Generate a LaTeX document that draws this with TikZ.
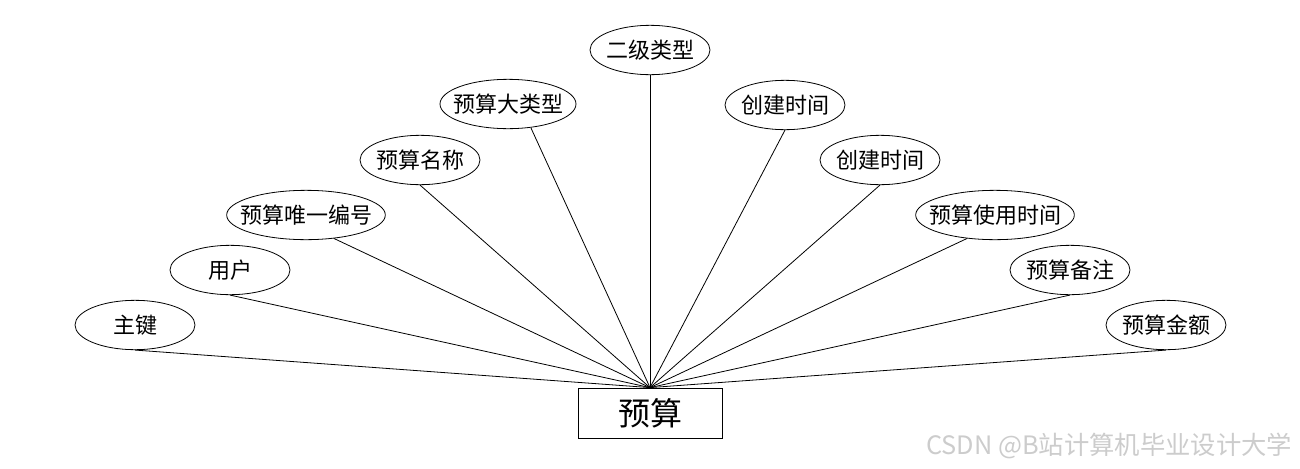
\documentclass[tikz,border=0pt]{standalone}
\usepackage{fontspec}
\newfontfamily\cjk{Noto Sans CJK SC}
\usetikzlibrary{shapes.geometric}

\begin{document}
\begin{tikzpicture}[x=0.75pt, y=-0.75pt, line width=0.6pt,
  every node/.style={font=\cjk\fontsize{16.5}{18}\selectfont},
  attr/.style={draw, ellipse, inner ysep=0pt, inner xsep=-12pt, minimum width=90pt, minimum height=37pt},
  entity/.style={draw, rectangle, inner sep=0pt, minimum width=108pt, minimum height=37.5pt, font=\cjk\fontsize{24}{28}\selectfont}]
\useasboundingbox (0,0) rectangle (1300,468);
\node[entity] (budget) at (650,413) {预算};
% left side
\node[attr] (key) at (135,325) {主键};
\node[attr] (user) at (230,270) {用户};
\node[attr, minimum width=119pt] (bid) at (306,215) {预算唯一编号};
\node[attr] (bname) at (420,160) {预算名称};
\node[attr, minimum width=102pt] (btype) at (508,104) {预算大类型};
\node[attr] (subtype) at (650,50) {二级类型};
% right side
\node[attr] (ctimea) at (785,105) {创建时间};
\node[attr] (ctimeb) at (880,160) {创建时间};
\node[attr, minimum width=119pt] (usetime) at (995,215) {预算使用时间};
\node[attr] (remark) at (1070,270) {预算备注};
\node[attr] (amount) at (1166,325) {预算金额};
\draw (key.south) -- (budget.north);
\draw (user.south) -- (budget.north);
\draw (bid.-40) -- (budget.north);
\draw (bname.south) -- (budget.north);
\draw (btype.-46) -- (budget.north);
\draw (subtype.south) -- (budget.north);
\draw (ctimea.south) -- (budget.north);
\draw (ctimeb.south) -- (budget.north);
\draw (usetime.220) -- (budget.north);
\draw (remark.south) -- (budget.north);
\draw (amount.south) -- (budget.north);
\node[text=black!20, anchor=east, font=\cjk\fontsize{19}{21}\selectfont] (mark) at (1297,446) {CSDN @B站计算机毕业设计大学};
\end{tikzpicture}
\end{document}
